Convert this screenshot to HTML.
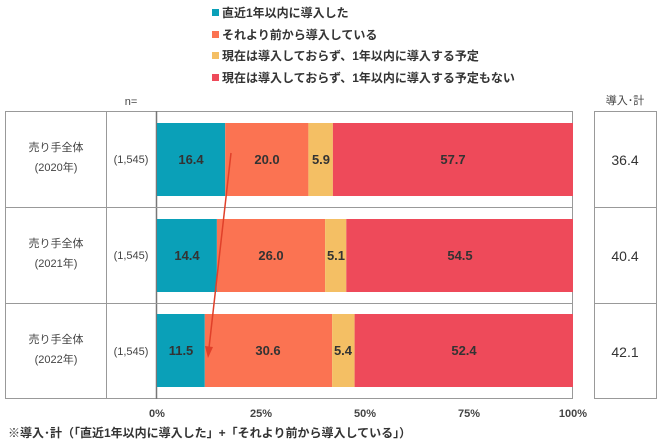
<!DOCTYPE html>
<html><head><meta charset="utf-8"><style>
body{margin:0;background:#fff;width:660px;height:441px;overflow:hidden;font-family:"Liberation Sans","Noto Sans CJK JP",sans-serif}
</style></head><body>
<svg width="660" height="441" xmlns="http://www.w3.org/2000/svg" font-family="Liberation Sans, Noto Sans CJK JP, sans-serif">
<g font-size="12" font-weight="bold" fill="#333">
<rect x="212" y="9" width="7" height="7" fill="#0aa0b8"/><text x="222" y="17">直近1年以内に導入した</text>
<rect x="212" y="31" width="7" height="7" fill="#fb7352"/><text x="222" y="39">それより前から導入している</text>
<rect x="212" y="52" width="7" height="7" fill="#f4bf64"/><text x="222" y="60">現在は導入しておらず、1年以内に導入する予定</text>
<rect x="212" y="74" width="7" height="7" fill="#ee4a5a"/><text x="222" y="82">現在は導入しておらず、1年以内に導入する予定もない</text>
</g>
<text x="131" y="105" font-size="11" fill="#444" text-anchor="middle">n=</text>
<text x="625" y="104" font-size="11" fill="#444" text-anchor="middle">導入･計</text>
<g fill="none" stroke="#999" stroke-width="1">
<rect x="5.5" y="111.5" width="567" height="287"/>
<line x1="106.5" y1="111" x2="106.5" y2="399"/>
<line x1="156.5" y1="111" x2="156.5" y2="399" stroke="#777" stroke-width="1.5"/>
<line x1="5" y1="207.5" x2="573" y2="207.5"/>
<line x1="5" y1="303.5" x2="573" y2="303.5"/>
<rect x="594.5" y="111.5" width="62" height="287"/>
<line x1="594" y1="207.5" x2="657" y2="207.5"/>
<line x1="594" y1="303.5" x2="657" y2="303.5"/>
</g>
<g font-size="11" fill="#444" text-anchor="middle">
<text x="56" y="151">売り手全体</text><text x="56" y="171">(2020年)</text>
<text x="56" y="247">売り手全体</text><text x="56" y="267">(2021年)</text>
<text x="56" y="343">売り手全体</text><text x="56" y="363">(2022年)</text>
<text x="131" y="163">(1,545)</text><text x="131" y="259">(1,545)</text><text x="131" y="355">(1,545)</text>
</g>
<g font-size="14" fill="#333" text-anchor="middle">
<text x="625" y="165">36.4</text><text x="625" y="261">40.4</text><text x="625" y="357">42.1</text>
</g>
<g font-size="13" font-weight="bold" fill="#333" text-anchor="middle">
<rect x="157" y="123" width="68.2" height="73" fill="#0aa0b8"/>
<rect x="225.2" y="123" width="83.2" height="73" fill="#fb7352"/>
<rect x="308.4" y="123" width="24.5" height="73" fill="#f4bf64"/>
<rect x="332.9" y="123" width="240.1" height="73" fill="#ee4a5a"/>
<text x="191" y="164">16.4</text><text x="267" y="164">20.0</text><text x="321" y="164">5.9</text><text x="453" y="164">57.7</text>
<rect x="157" y="219" width="59.9" height="73" fill="#0aa0b8"/>
<rect x="216.9" y="219" width="108.2" height="73" fill="#fb7352"/>
<rect x="325.1" y="219" width="21.2" height="73" fill="#f4bf64"/>
<rect x="346.3" y="219" width="226.7" height="73" fill="#ee4a5a"/>
<text x="187" y="260">14.4</text><text x="271" y="260">26.0</text><text x="336" y="260">5.1</text><text x="460" y="260">54.5</text>
<rect x="157" y="314" width="47.8" height="73" fill="#0aa0b8"/>
<rect x="204.8" y="314" width="127.3" height="73" fill="#fb7352"/>
<rect x="332.1" y="314" width="22.5" height="73" fill="#f4bf64"/>
<rect x="354.6" y="314" width="218.4" height="73" fill="#ee4a5a"/>
<text x="181" y="355">11.5</text><text x="268" y="355">30.6</text><text x="343" y="355">5.4</text><text x="464" y="355">52.4</text>
</g>
<line x1="231" y1="153" x2="209" y2="348" stroke="#e0402a" stroke-width="1.5"/>
<polygon points="205,346 213,347 208,358" fill="#e0402a"/>
<g font-size="11" font-weight="bold" fill="#444" text-anchor="middle">
<text x="157" y="417">0%</text><text x="261" y="417">25%</text><text x="365" y="417">50%</text><text x="469" y="417">75%</text><text x="573" y="417">100%</text>
</g>
<text x="8" y="437" font-size="12" font-weight="bold" fill="#333">※導入･計（「直近1年以内に導入した」+「それより前から導入している」）</text>
</svg>
</body></html>
